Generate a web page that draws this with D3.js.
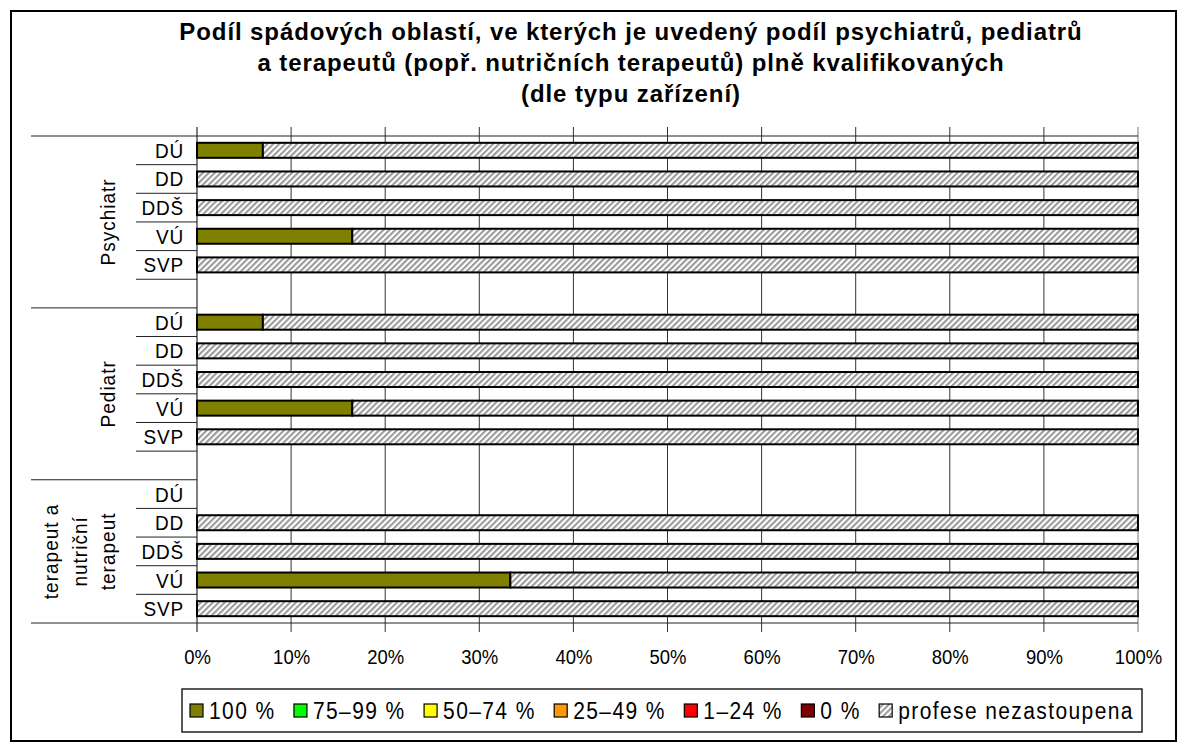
<!doctype html>
<html lang="cs">
<head>
<meta charset="utf-8">
<title>Podíl spádových oblastí – kvalifikace</title>
<script src="https://cdnjs.cloudflare.com/ajax/libs/d3/7.8.5/d3.min.js"></script>
<style>
  body { margin: 0; background: #fff; }
  svg text { font-family: "Liberation Sans", Arial, sans-serif; fill: #000; }
</style>
</head>
<body>
<svg id="chart" width="1186" height="744"></svg>
<script>
// ---- data ----
const titleLines = [
  "Podíl spádových oblastí, ve kterých je uvedený podíl psychiatrů, pediatrů",
  "a terapeutů (popř. nutričních terapeutů) plně kvalifikovaných",
  "(dle typu zařízení)"
];
const groups = ["Psychiatr", "Pediatr", "terapeut a nutriční terapeut"];
const groupLabelLines = [["Psychiatr"], ["Pediatr"], ["terapeut a", "nutriční", "terapeut"]];
const facilities = ["DÚ", "DD", "DDŠ", "VÚ", "SVP"];
const seriesNames = ["100 %", "75–99 %", "50–74 %", "25–49 %", "1–24 %", "0 %", "profese nezastoupena"];
const seriesColors = ["#808000", "#00ff00", "#ffff00", "#ff9900", "#ff0000", "#800000", "url(#hatch)"];

// % of areas, order: group x facility (DÚ, DD, DDŠ, VÚ, SVP)
const s100   = [7, 0, 0, 16.5, 0,   7, 0, 0, 16.5, 0,   0, 0, 0, 33.3, 0];
const s75    = [0, 0, 0, 0, 0,      0, 0, 0, 0, 0,      0, 0, 0, 0, 0];
const s50    = [0, 0, 0, 0, 0,      0, 0, 0, 0, 0,      0, 0, 0, 0, 0];
const s25    = [0, 0, 0, 0, 0,      0, 0, 0, 0, 0,      0, 0, 0, 0, 0];
const s1     = [0, 0, 0, 0, 0,      0, 0, 0, 0, 0,      0, 0, 0, 0, 0];
const s0     = [0, 0, 0, 0, 0,      0, 0, 0, 0, 0,      0, 0, 0, 0, 0];
const sNone  = [93, 100, 100, 83.5, 100,   93, 100, 100, 83.5, 100,   0, 100, 100, 66.7, 100];
const xTicks = [0, 10, 20, 30, 40, 50, 60, 70, 80, 90, 100];

const seriesValues = [s100, s75, s50, s25, s1, s0, sNone];

// ---- layout ----
const svg = d3.select("#chart");
const plot = { left: 197, right: 1138, top: 136, bottom: 623 };
const textStretch = 1.1; // the original's lettering is a bit taller than Arial

// move x/y into a transform so the glyphs can be stretched vertically around the baseline
function stretch(sel, extra) {
  sel.each(function () {
    const t = d3.select(this);
    const tx = +t.attr("x") || 0, ty = +t.attr("y") || 0;
    t.attr("x", null).attr("y", null)
     .attr("transform", `translate(${tx},${ty})${extra || ""} scale(1,${textStretch})`);
  });
}

// hatch pattern
const defs = svg.append("defs");
defs.append("pattern")
    .attr("id", "hatch")
    .attr("patternUnits", "userSpaceOnUse")
    .attr("width", 4.2).attr("height", 4.2)
    .attr("patternTransform", "rotate(45)")
  .call(p => {
    p.append("rect").attr("width", 4.2).attr("height", 4.2).attr("fill", "#fff");
    p.append("rect").attr("width", 2.1).attr("height", 4.2).attr("fill", "#9a9a9a");
  });

// rows: one per group/facility, plus a blank slot after the first two groups
const rows = [];
const slots = [];
groups.forEach((g, gi) => {
  facilities.forEach((f, fi) => {
    const row = { key: g + "|" + f, group: g, facility: f };
    seriesNames.forEach((s, si) => { row[s] = seriesValues[si][gi * facilities.length + fi]; });
    rows.push(row);
    slots.push(row.key);
  });
  if (gi < groups.length - 1) slots.push(g + "|gap");
});

const x = d3.scaleLinear().domain([0, 100]).range([plot.left, plot.right]);
const y = d3.scaleBand().domain(slots).range([plot.top, plot.bottom]).paddingInner(0).paddingOuter(0);
const barH = 15;

// outer frame
svg.append("rect")
    .attr("x", 11).attr("y", 11).attr("width", 1165).attr("height", 730)
    .attr("fill", "#fff").attr("stroke", "#000").attr("stroke-width", 2);

// title
svg.append("g").selectAll("text")
  .data(titleLines)
  .join("text")
    .attr("x", 631)
    .attr("y", (d, i) => 40 + i * 31)
    .attr("text-anchor", "middle")
    .attr("font-size", 24)
    .attr("font-weight", "bold")
    .attr("letter-spacing", 0.9)
    .text(d => d);

// vertical gridlines
svg.append("g").selectAll("line")
  .data(xTicks)
  .join("line")
    .attr("x1", d => x(d)).attr("x2", d => x(d))
    .attr("y1", 127).attr("y2", 632)
    .attr("stroke", d => d === 0 ? "#000" : (d === 100 ? "#777" : "#333"))
    .attr("stroke-width", 1);

// horizontal lines at top and bottom of plot
svg.append("g").selectAll("line")
  .data([plot.top, plot.bottom])
  .join("line")
    .attr("x1", 31).attr("x2", plot.right)
    .attr("y1", d => d).attr("y2", d => d)
    .attr("stroke", "#222").attr("stroke-width", 1);

// group separators on the category axis
const groupStarts = groups.map(g => y(g + "|" + facilities[0]));
svg.append("g").selectAll("line")
  .data(groupStarts.slice(1))
  .join("line")
    .attr("x1", 31).attr("x2", plot.left)
    .attr("y1", d => d).attr("y2", d => d)
    .attr("stroke", "#222");

// slot tick lines
const slotBounds = slots.map(s => y(s) + y.bandwidth())
  .filter(b => Math.abs(b - plot.bottom) > 1 && !groupStarts.some(g => Math.abs(g - b) < 1));
svg.append("g").selectAll("line")
  .data(slotBounds)
  .join("line")
    .attr("x1", 136).attr("x2", plot.left)
    .attr("y1", d => d).attr("y2", d => d)
    .attr("stroke", "#222");

// stacked bars
const stack = d3.stack().keys(seriesNames);
const stacked = stack(rows);
svg.append("g").selectAll("g")
  .data(stacked)
  .join("g")
    .attr("fill", (d, i) => seriesColors[i])
  .selectAll("rect")
  .data(d => d.filter(p => p[1] - p[0] > 0))
  .join("rect")
    .attr("x", p => x(p[0]))
    .attr("width", p => x(p[1]) - x(p[0]))
    .attr("y", p => y(p.data.key) + (y.bandwidth() - barH) / 2)
    .attr("height", barH)
    .attr("stroke", "#000")
    .attr("stroke-width", 2);

// facility labels
svg.append("g").selectAll("text")
  .data(rows)
  .join("text")
    .attr("x", 184)
    .attr("y", d => y(d.key) + y.bandwidth() / 2 + 7.5)
    .attr("text-anchor", "end")
    .attr("font-size", 19)
    .attr("letter-spacing", 0.8)
    .text(d => d.facility)
    .call(stretch);

// group labels (rotated)
groups.forEach((g, gi) => {
  const top = y(g + "|" + facilities[0]);
  const bottom = gi < groups.length - 1 ? y(groups[gi + 1] + "|" + facilities[0]) : plot.bottom;
  const cy = (top + bottom) / 2;
  const lines = groupLabelLines[gi];
  lines.forEach((line, li) => {
    const bx = 115 - (lines.length - 1 - li) * 28.5;
    svg.append("text")
      .attr("x", bx).attr("y", cy)
      .attr("text-anchor", "middle")
      .attr("font-size", 19)
      .attr("letter-spacing", 1)
      .text(line)
      .call(stretch, " rotate(-90)");
  });
});

// x axis labels
const xAxis = d3.axisBottom(x).tickValues(xTicks).tickSize(0).tickPadding(0).tickFormat(d => d + "%");
svg.append("g")
    .attr("transform", "translate(0,649)")
    .call(xAxis)
    .call(g => g.select(".domain").remove())
    .call(g => g.selectAll("text")
      .attr("font-size", 18.5).attr("font-family", "Liberation Sans, Arial, sans-serif")
      .attr("fill", "#000").attr("dy", null).attr("y", 14.5)
      .call(stretch));

// legend
const legend = svg.append("g");
legend.append("rect")
    .attr("x", 182).attr("y", 689).attr("width", 960).attr("height", 43)
    .attr("fill", "#fff").attr("stroke", "#222").attr("stroke-width", 1.5);

const items = legend.selectAll("g.item")
  .data(seriesNames)
  .join("g").attr("class", "item");
items.append("rect")
    .attr("width", 13).attr("height", 13)
    .attr("y", 704)
    .attr("fill", (d, i) => seriesColors[i])
    .attr("stroke", "#000").attr("stroke-width", 1.2);
items.append("text")
    .attr("font-size", 21)
    .attr("letter-spacing", 1.4)
    .text(d => d);

const swatchGap = 6;
const widths = [];
items.selectAll("text").each(function () { widths.push(this.getComputedTextLength()); });
const legendStart = 190, legendEnd = 1134;
const spacing = (legendEnd - legendStart - d3.sum(widths) - seriesNames.length * (13 + swatchGap)) / (seriesNames.length - 1);
let cx = legendStart;
items.each(function (d, i) {
  const g = d3.select(this);
  g.select("rect").attr("x", cx);
  g.select("text").attr("x", cx + 13 + swatchGap).attr("y", 718.5).call(stretch);
  cx += 13 + swatchGap + widths[i] + spacing;
});
</script>
</body>
</html>
